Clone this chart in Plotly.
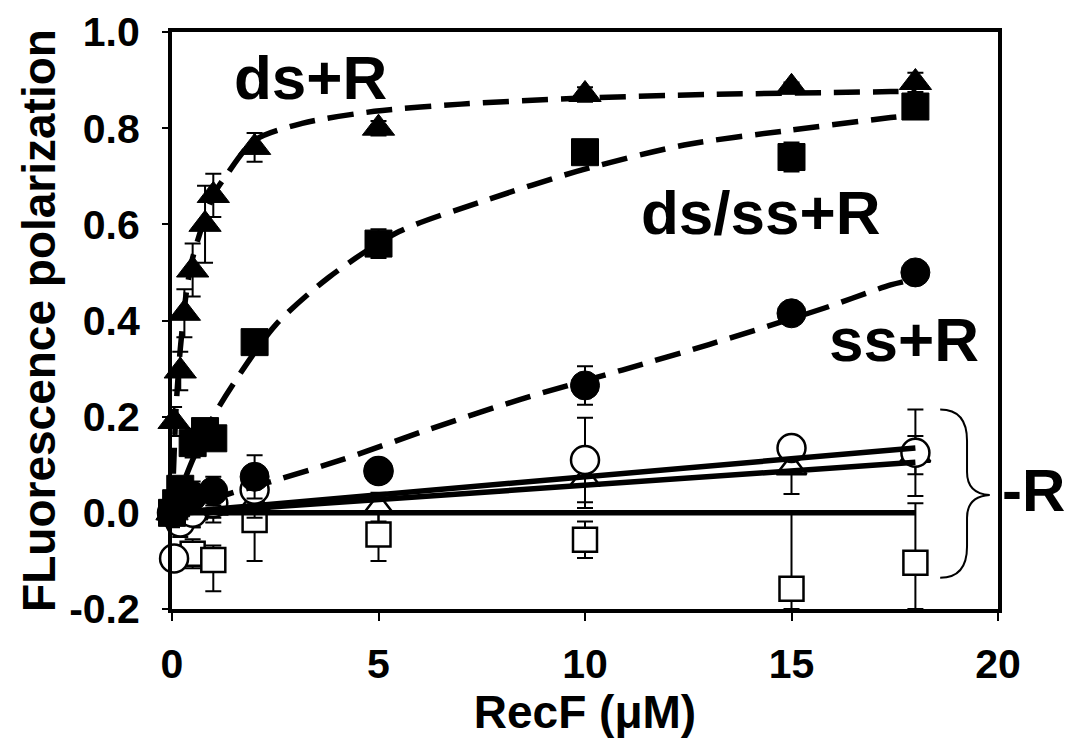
import plotly.graph_objects as go

# ---- ds+R (filled triangles) ----
ds_x = [0, 0.05, 0.2, 0.3, 0.5, 0.8, 1, 2, 5, 10, 15, 18]
ds_y = [0.0, 0.19, 0.295, 0.415, 0.505, 0.60, 0.66, 0.76, 0.80, 0.87, 0.885, 0.895]
ds_err = [0.02, 0.03, 0.04, 0.05, 0.055, 0.08, 0.045, 0.03, 0.015, 0.015, 0.01, 0.02]
ds_fit_x = [0, 0.1, 0.2, 0.35, 0.5, 1, 1.3, 2, 3.15, 4.9, 7, 9.8, 13, 17.4, 18]
ds_fit_y = [0, 0.22, 0.34, 0.46, 0.53, 0.66, 0.70, 0.775, 0.81, 0.835, 0.85, 0.862, 0.87, 0.876, 0.877]

# ---- ds/ss+R (filled squares) ----
dss_x = [0, 0.1, 0.2, 0.5, 0.8, 1, 2, 5, 10, 15, 18]
dss_y = [0.0, 0.02, 0.05, 0.145, 0.17, 0.155, 0.355, 0.56, 0.75, 0.74, 0.845]
dss_err = [0.02, 0.02, 0.02, 0.03, 0.02, 0.02, 0.02, 0.03, 0.02, 0.03, 0.02]
dss_fit_x = [0, 0.5, 1, 1.5, 2.5, 3.8, 5.5, 7.6, 9.8, 12.4, 14.9, 17.4, 18]
dss_fit_y = [0, 0.11, 0.2, 0.27, 0.39, 0.49, 0.585, 0.65, 0.71, 0.765, 0.795, 0.822, 0.828]

# ---- ss+R (filled circles) ----
ss_x = [0, 0.1, 0.2, 0.5, 1, 2, 5, 10, 15, 18]
ss_y = [0.0, 0.01, 0.02, 0.035, 0.045, 0.075, 0.087, 0.265, 0.415, 0.50]
ss_err = [0.03, 0.03, 0.03, 0.03, 0.03, 0.045, 0.02, 0.04, 0.01, 0.02]
ss_fit_x = [0, 1, 1.3, 2.4, 4.1, 6.2, 8.4, 10.9, 13, 15.8, 17.4, 18]
ss_fit_y = [0, 0.025, 0.037, 0.065, 0.11, 0.173, 0.235, 0.297, 0.35, 0.426, 0.474, 0.486]

# ---- -R series (open symbols) ----
oc_x = [0, 0.05, 0.2, 0.5, 1, 2, 5, 10, 15, 18]
oc_y = [0.0, -0.095, -0.02, 0.0, 0.02, 0.048, 0.087, 0.11, 0.135, 0.125]
oc_err = [0.03, 0.02, 0.03, 0.03, 0.03, 0.03, 0.02, 0.088, 0.01, 0.09]
oc_fit_x = [0, 18]
oc_fit_y = [0.0, 0.135]

ot_x = [0, 0.2, 0.5, 1, 2, 5, 10, 15, 18]
ot_y = [0.0, -0.01, 0.0, 0.01, 0.02, 0.012, 0.07, 0.094, 0.12]
ot_err = [0.03, 0.03, 0.03, 0.03, 0.03, 0.03, 0.06, 0.055, 0.04]
ot_fit_x = [0, 18]
ot_fit_y = [-0.002, 0.105]

os_x = [0, 0.5, 1, 2, 5, 10, 15, 18]
os_y = [0.0, -0.085, -0.098, -0.015, -0.045, -0.056, -0.158, -0.104]
os_err_plus = [0.02, 0.03, 0.03, 0.085, 0.055, 0.038, 0.158, 0.124]
os_err_minus = [0.02, 0.03, 0.065, 0.085, 0.055, 0.038, 0.042, 0.096]
os_fit_x = [0, 18]
os_fit_y = [0.0, 0.0]

x_ticks = [0, 5, 10, 15, 20]
y_ticks = [-0.2, 0.0, 0.2, 0.4, 0.6, 0.8, 1.0]
y_ticktext = ["-0.2", "0.0", "0.2", "0.4", "0.6", "0.8", "1.0"]

FONT = "Liberation Sans, Arial, sans-serif"
BLACK = "black"

fig = go.Figure()


def pts(x, y, symbol, size, filled, ep, em=None):
    err = dict(type="data", array=ep, color=BLACK, thickness=2, width=8)
    if em is not None:
        err["arrayminus"] = em
        err["symmetric"] = False
    fig.add_trace(go.Scatter(
        x=x, y=y, mode="markers", cliponaxis=False,
        marker=dict(symbol=symbol, size=size,
                    color=BLACK if filled else "white",
                    line=dict(color=BLACK, width=1 if filled else 2.5)),
        error_y=err, showlegend=False))


def fitline(x, y, dashed):
    fig.add_trace(go.Scatter(
        x=x, y=y, mode="lines",
        line=dict(color=BLACK, width=5.5,
                  dash="26px,13px" if dashed else "solid",
                  shape="spline" if dashed else "linear", smoothing=0.8),
        showlegend=False, hoverinfo="skip"))


# open (-R) symbols
pts(os_x, os_y, "square", 24, False, os_err_plus, os_err_minus)
pts(ot_x, ot_y, "triangle-up", 26, False, ot_err)
pts(oc_x, oc_y, "circle", 28, False, oc_err)
fitline(os_fit_x, os_fit_y, False)
fitline(ot_fit_x, ot_fit_y, False)
fitline(oc_fit_x, oc_fit_y, False)

# filled (+R) symbols
pts(ss_x, ss_y, "circle", 29, True, ss_err)
pts(dss_x, dss_y, "square", 27, True, dss_err)
pts(ds_x, ds_y, "triangle-up", 28, True, ds_err)
fitline(ss_fit_x, ss_fit_y, True)
fitline(dss_fit_x, dss_fit_y, True)
fitline(ds_fit_x, ds_fit_y, True)

# curve labels
lab_font = dict(family=FONT, size=62, color=BLACK, weight="bold")
for txt, xx, yy in [("ds+R", 3.35, 0.905), ("ds/ss+R", 14.27, 0.625),
                    ("ss+R", 17.72, 0.36)]:
    fig.add_annotation(x=xx, y=yy, xref="x", yref="y", text=txt,
                       showarrow=False, font=lab_font,
                       xanchor="center", yanchor="middle")

# brace for the -R group and its label
fig.add_shape(type="path", xref="x", yref="y",
              path="M 18.6,0.215 Q 19.25,0.215 19.25,0.15 L 19.25,0.085 "
                   "Q 19.25,0.04 19.8,0.037 Q 19.25,0.034 19.25,-0.01 "
                   "L 19.25,-0.07 Q 19.25,-0.135 18.6,-0.135",
              line=dict(color=BLACK, width=2))
fig.add_annotation(x=1.083, y=0.047, xref="paper", yref="y", text="-R",
                   showarrow=False, font=dict(family=FONT, size=60, color=BLACK, weight="bold"),
                   xanchor="right", yanchor="middle")

axis_common = dict(showline=True, linecolor=BLACK, linewidth=4, mirror=True,
                   ticks="outside", tickcolor=BLACK, tickwidth=2,
                   showgrid=False, zeroline=False,
                   tickfont=dict(family=FONT, size=41, color=BLACK, weight="bold"))

fig.update_xaxes(range=[0, 20], tickvals=x_ticks, ticklen=8,
                 ticklabelstandoff=8,
                 title=dict(text="RecF (\u03bcM)", standoff=16,
                            font=dict(family=FONT, size=46, color=BLACK, weight="bold")),
                 **axis_common)
fig.update_yaxes(range=[-0.2, 1.0], tickvals=y_ticks, ticktext=y_ticktext,
                 ticklen=6, ticklabelstandoff=14,
                 title=dict(text="FLuorescence polarization", standoff=0,
                            font=dict(family=FONT, size=46, color=BLACK, weight="bold")),
                 **axis_common)

fig.update_layout(width=1061, height=730,
                  margin=dict(l=164, r=71, t=24, b=129, autoexpand=False),
                  plot_bgcolor="white", paper_bgcolor="white",
                  showlegend=False)

fig.write_html("out.html")
